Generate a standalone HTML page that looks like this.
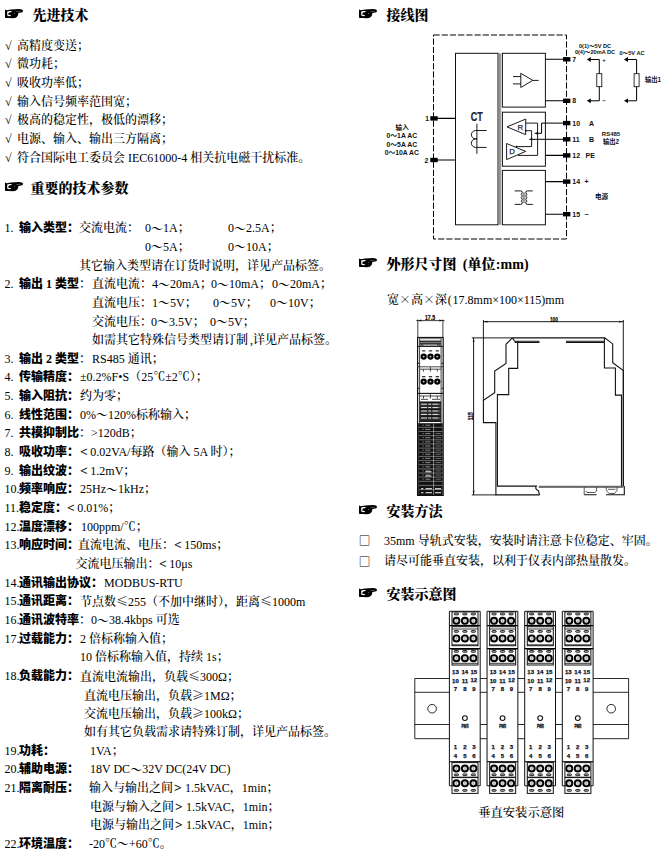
<!DOCTYPE html>
<html lang="zh-CN"><head><meta charset="utf-8"><title>技术参数</title>
<style>
html,body{margin:0;padding:0;background:#fff}
body{width:664px;height:849px;position:relative;overflow:hidden;color:#000;
 font-family:"Liberation Serif","Noto Serif CJK SC",serif;font-size:12px}
.t{position:absolute;white-space:pre;line-height:20px;height:20px;font-size:12px;font-weight:500}
.w{display:inline-block;width:12px;text-align:center;font-family:"Noto Serif CJK SC",serif;font-weight:700}
.lt{font-family:"Liberation Serif",serif;font-weight:700;text-align:left;width:10.3px;font-size:13.5px;line-height:12px;margin-right:0}
.t b{font-family:"Liberation Serif","Noto Sans CJK SC",sans-serif;font-weight:900}
.h{font-size:14px;font-weight:900;line-height:24px;height:24px;font-family:"Liberation Serif","Noto Serif CJK SC",serif}
.hand{font-size:19px;line-height:24px;height:24px;font-family:"DejaVu Sans",sans-serif;font-weight:bold}
svg{position:absolute;left:0;top:0}
svg.hd{position:absolute}
.gt{width:11px;padding-left:1px}
.bx{font-size:11.6px;font-weight:700;line-height:12px;font-family:"Noto Serif CJK SC",serif}
.x{font-weight:500}
.p6{display:inline-block;width:5.5px;text-align:center}
.td{position:relative;top:1.5px;font-weight:700}
</style></head><body>
<svg width="664" height="849" viewBox="0 0 664 849">
<g id="wiring" fill="none" stroke="#000" stroke-width="1">
<rect x="433.5" y="35" width="133" height="204" stroke-dasharray="6.2 2" stroke-width="1"/>
<rect x="455.5" y="53.3" width="42.5" height="171.5" stroke="#111" stroke-width="1"/>
<path d="M499.4,53.3V224.8M500.7,53.3V224.8" stroke="#666" stroke-width="0.8"/>
<rect x="502.4" y="53.3" width="43" height="53.8" stroke="#111" stroke-width="1"/>
<rect x="502.4" y="112.2" width="43" height="54" stroke="#111" stroke-width="1"/>
<rect x="502.4" y="170.4" width="43" height="54.4" stroke="#111" stroke-width="1"/>
<rect x="430.3" y="116.2" width="7.4" height="4.4" fill="#000" stroke="none"/>
<rect x="430.3" y="157.8" width="7.4" height="4.4" fill="#000" stroke="none"/>
<rect x="563" y="57.1" width="7.4" height="4.4" fill="#000" stroke="none"/>
<rect x="563" y="98.6" width="7.4" height="4.4" fill="#000" stroke="none"/>
<rect x="563" y="120.9" width="7.4" height="4.4" fill="#000" stroke="none"/>
<rect x="563" y="137.1" width="7.4" height="4.4" fill="#000" stroke="none"/>
<rect x="563" y="153.2" width="7.4" height="4.4" fill="#000" stroke="none"/>
<rect x="563" y="179.4" width="7.4" height="4.4" fill="#000" stroke="none"/>
<rect x="563" y="212" width="7.4" height="4.4" fill="#000" stroke="none"/>
<path d="M437,118.4H455.5M437,160H455.5" stroke-width="1.1"/>
<path d="M545.4,59.3H563M545.4,100.8H563M545.4,155.4H563M545.4,181.6H563M545.4,214.2H563" stroke-width="1.1"/>
<path d="M520.8,73.3V87.5L532.8,80.4ZM532.8,80.4H538.6M513,76.6H520.8M513,83.9H520.8" stroke-width="0.9"/>
<path d="M476.9,123.7V153.8M486.6,130.5H475.6A4.2,4.2 0 0 0 475.6,138.9H477M477,138.9H475.6A4.25,4.25 0 0 0 475.6,147.4H486.6" stroke-width="0.9"/>
<path d="M507,126.9L525.7,119.1V134.7Z" stroke-width="0.9"/>
<path d="M506.6,143.5V159.6L525.7,151.4Z" stroke-width="0.9"/>
<path d="M525.7,123.1H537.6V155.4H518" stroke-width="0.9"/>
<path d="M563,123.1H541.6V133.3H537.6" stroke-width="1"/>
<path d="M525.7,130.7H531.6V146.6H516.3" stroke-width="0.9"/>
<path d="M563,139.3H531.6" stroke-width="1"/>
<path d="M534,133.3L538,131.9V134.7Z M528.6,139.3L532.2,138V140.6Z" fill="#000" stroke="none"/>
<circle cx="525.7" cy="130.7" r="0.8" fill="#000" stroke="none"/><circle cx="516.3" cy="146.6" r="0.8" fill="#000" stroke="none"/>
<path d="M514.7,190.9H520.5Q522.6,190.9 522.3,192.6M514.7,204.4H520.5Q522.6,204.4 522.3,202.7M532.8,190.9H527.4Q525.6,190.9 525.9,192.6M532.8,204.4H527.4Q525.6,204.4 525.9,202.7" stroke-width="0.9"/>
<path d="M523.2,192.3V203M524.9,192.3V203" stroke-width="0.6"/>
<path d="M522.3,192.6q-2.2,1.7 0,3.4q-2.2,1.7 0,3.4q-2.2,1.7 0,3.3M525.9,192.6q2.2,1.7 0,3.4q2.2,1.7 0,3.4q2.2,1.7 0,3.3" stroke-width="0.8"/>
<path d="M589.8,59.5H599.3V73.7M599.3,86.7V100.8H589.8" stroke-width="1"/>
<rect x="596.8" y="73.7" width="5" height="13" stroke-width="0.8"/>
<path d="M586.8,59.5l4,-2.4v4.8ZM586.8,100.8l4,-2.4v4.8Z" fill="#000" stroke="none"/>
<path d="M627,59.5H636.6V73.7M636.6,86.7V100.8H627" stroke-width="1"/>
<rect x="634.1" y="73.7" width="5" height="13" stroke-width="0.8"/>
<path d="M624,59.5l4,-2.4v4.8ZM624,100.8l4,-2.4v4.8Z" fill="#000" stroke="none"/>
</g>
<g font-family="'Liberation Sans','Noto Sans CJK SC',sans-serif" font-weight="bold" fill="#111" font-size="6.5">
<text x="425.3" y="120.9" font-size="6.8">1</text>
<text x="424.6" y="162.5" font-size="6.8">2</text>
<text x="572.3" y="61.8" font-size="7">7</text>
<text x="572.3" y="103.3" font-size="7">8</text>
<text x="572.3" y="125.6" font-size="7">10</text>
<text x="572.3" y="141.8" font-size="7">11</text>
<text x="572.3" y="157.9" font-size="7">12</text>
<text x="572.3" y="184.1" font-size="7">14</text>
<text x="572.3" y="216.7" font-size="7">15</text>
<text x="589" y="125.6" font-size="7">A</text>
<text x="589" y="141.8" font-size="7">B</text>
<text x="585.5" y="157.9" font-size="7">PE</text>
<text x="584.5" y="184" font-size="7">+</text>
<text x="584.5" y="216.6" font-size="7">−</text>
<text x="602.3" y="61.5" font-size="6">+</text>
<text x="602.3" y="103" font-size="6">−</text>
<text x="402.2" y="129.6" font-size="6.6" text-anchor="middle">输入</text>
<text x="401.8" y="137.9" font-size="6.4" text-anchor="middle" textLength="30.6" lengthAdjust="spacingAndGlyphs">0～1A AC</text>
<text x="401.8" y="146.8" font-size="6.4" text-anchor="middle" textLength="30.6" lengthAdjust="spacingAndGlyphs">0～5A AC</text>
<text x="401.8" y="154.8" font-size="6.4" text-anchor="middle" textLength="34.2" lengthAdjust="spacingAndGlyphs">0～10A AC</text>
<text x="595" y="48" font-size="5.6" text-anchor="middle">0(1)～5V DC</text>
<text x="595" y="53.8" font-size="5.6" text-anchor="middle">0(4)～20mA DC</text>
<text x="632" y="55" font-size="5.6" text-anchor="middle">0～5V AC</text>
<text x="645" y="81.6" font-size="6.3">输出1</text>
<text x="611" y="135.6" font-size="6" text-anchor="middle">RS485</text>
<text x="611" y="144.2" font-size="6.3" text-anchor="middle">输出2</text>
<text x="595" y="198.5" font-size="6.6">电源</text>
</g>
<g font-family="'Liberation Sans',sans-serif" fill="#223" stroke="#223" stroke-width="0.25">
<text x="476.7" y="120.6" font-size="12.6" font-weight="bold" text-anchor="middle" transform="translate(476.7 0) scale(0.72 1) translate(-476.7 0)">CT</text>
<text x="520.2" y="129.9" font-size="7.8" text-anchor="middle">R</text>
<text x="512" y="154.2" font-size="7.8" text-anchor="middle">D</text>
</g>
<g id="dims" fill="none" stroke="#111" stroke-width="0.9">
<path d="M416.3,320.6H444.6M417.8,319.5V337.5M442.9,319.5V337.5" stroke-width="0.8"/>
<path d="M417.8,320.6l3.6,-1v2ZM442.9,320.6l-3.6,-1v2Z" fill="#111" stroke="none"/>
<rect x="417.6" y="337.5" width="25.6" height="157.9" stroke="#111" stroke-width="1.2"/>
<path d="M419.6,337.5V423M441.1,337.5V423" stroke="#444" stroke-width="1"/>
<path d="M419.6,338.7H441.1" stroke="#555" stroke-width="0.8"/>
<rect x="419.6" y="340.8" width="21.5" height="5.8" fill="#777" stroke="none"/>
<path d="M419.6,341.2H441.1M419.6,343.9H441.1M417.6,346.4H443.2" stroke="#111" stroke-width="1"/>
<path d="M423.5,345.1H437" stroke="#ddd" stroke-width="0.8"/>
<path d="M417.6,363.3h1.8M443.2,363.3h-1.8M417.6,388.3h1.8M443.2,388.3h-1.8" stroke="#111" stroke-width="1"/>
<rect x="421.9" y="350.15" width="3.6" height="1.3" rx="0.6" fill="#333" stroke="none"/>
<circle cx="423.7" cy="356.6" r="2.05" fill="#ccc" stroke="#000" stroke-width="2.2"/>
<rect x="428.7" y="350.15" width="3.6" height="1.3" rx="0.6" fill="#333" stroke="none"/>
<circle cx="430.5" cy="356.6" r="2.05" fill="#ccc" stroke="#000" stroke-width="2.2"/>
<rect x="435.5" y="350.15" width="3.6" height="1.3" rx="0.6" fill="#333" stroke="none"/>
<circle cx="437.3" cy="356.6" r="2.05" fill="#ccc" stroke="#000" stroke-width="2.2"/>
<path d="M417.6,366.8H443.2M419.6,369.2H441.1M423.5,369.2v2.4M430.4,367v4.6M437.3,369.2v2.4" stroke="#333" stroke-width="0.9"/>
<rect x="421.9" y="376.05" width="3.6" height="1.3" rx="0.6" fill="#333" stroke="none"/>
<circle cx="423.7" cy="381.6" r="2.05" fill="#ccc" stroke="#000" stroke-width="2.2"/>
<rect x="428.7" y="376.05" width="3.6" height="1.3" rx="0.6" fill="#333" stroke="none"/>
<circle cx="430.5" cy="381.6" r="2.05" fill="#ccc" stroke="#000" stroke-width="2.2"/>
<rect x="435.5" y="376.05" width="3.6" height="1.3" rx="0.6" fill="#333" stroke="none"/>
<circle cx="437.3" cy="381.6" r="2.05" fill="#ccc" stroke="#000" stroke-width="2.2"/>
<path d="M417.6,393.4H443.2" stroke="#111" stroke-width="1.1"/>
<path d="M419.6,396H441.1M423.5,396v2.6M430.4,394v4.6M437.3,396v2.6M421,399.3H428M432,399.3H440" stroke="#333" stroke-width="0.9"/>
<rect x="419.6" y="401.5" width="21.5" height="20.3" fill="#2a2a2a" stroke="none"/>
<path d="M421,404.2H440M421,407.6H440M421,411H440M421,414.4H440M421,418H440" stroke="#fff" stroke-width="0.9" stroke-dasharray="6 1.2 3 1.2"/>
<path d="M419.6,402.3H441.1M419.6,409.3H441.1M419.6,416.2H441.1M419.6,421.4H441.1" stroke="#111" stroke-width="1"/>
<rect x="418.2" y="423.2" width="24.5" height="72" fill="#111" stroke="none"/>
<path d="M419,427.3H442.4M419,431.5H442.4M419,435.6H442.4M419,439.8H442.4M419,443.9H442.4M419,448.1H442.4M419,452.2H442.4M419,456.4H442.4M419,460.6H442.4M419,464.7H442.4M419,468.9H442.4M419,473.0H442.4M419,477.1H442.4M419,481.3H442.4M419,485.4H442.4M419,489.6H442.4" stroke="#bbb" stroke-width="0.55"/>
<path d="M433.6,423.5V495" stroke="#ccc" stroke-width="0.6"/>
<path d="M422.5,425.2H432M422.5,429.4H432M422.5,433.5H432M422.5,437.7H432M422.5,441.8H432M422.5,446.0H432M422.5,450.1H432M422.5,454.3H432M422.5,458.4H432M422.5,462.6H432M422.5,466.8H432M422.5,470.9H432M422.5,475.0H432M422.5,479.2H432" stroke="#999" stroke-width="0.9" stroke-dasharray="1.2 1.6 5 30"/>
<path d="M435.5,433.5H441M435.5,437.7H441M435.5,441.8H441M435.5,446.0H441M435.5,450.1H441M435.5,454.3H441M435.5,458.4H441M435.5,462.6H441M435.5,466.8H441M435.5,470.9H441M435.5,475.0H441M435.5,479.2H441" stroke="#777" stroke-width="0.9"/>
<path d="M421,488.7h2.4M425.5,488.7h6.5M435,488.7h6M421,492.7h2.4M425.5,492.7h6.5M435,492.7h6" stroke="#fff" stroke-width="1.1"/>
<path d="M425.5,471.8h6M425.5,476h6" stroke="#fff" stroke-width="0.9"/>
<g stroke="#111" stroke-width="1.1">
<path d="M483.4,321.7H623.3M483.4,320V400.4M623.3,320V486" stroke-width="0.95"/>
<path d="M483.4,321.7l4.2,-0.9v1.8ZM623.3,321.7l-4.2,-0.9v1.8Z" fill="#111" stroke="none"/>
<path d="M473.6,337.9V494.9M471.8,337.9H512.4M471.8,494.9H496" stroke-width="0.95"/>
<path d="M473.6,337.9l-0.9,4.2h1.8ZM473.6,494.9l-0.9,-4.2h1.8Z" fill="#111" stroke="none"/>
<path d="M512.4,337.9L506,344.3V363.5L494.7,371V392.8L483.4,400.4V422.6H495.9V494.9H539.5M512.4,337.9H604.7L612.7,343.9V362.7L623.3,370.5V486.3M624.3,486V494.8H606M596.6,494.8H584.2" />
<path d="M512.4,337.9L514.7,341.3H539.5M514.7,342.5H539.5M517.7,341.5V368.4H508.7V394.6H497.4V486.1H536.3Q534.6,489 538.4,490.6L539.5,494.9M566,341.2H604M566,342.5H604M604.4,338V368H615.4V395.1H621.5V486" />
<path d="M538.8,486.3H623.3M538.8,487.3H623.3" stroke-width="0.7"/>
<path d="M584.2,487.3V494.8M596.6,487.3V491L594.5,492.5H587L585.8,491M606,487.3Q606.5,492.5 609.5,493.5H614.5L617,490.5V487.3M608,489.3H615.5" stroke-width="0.7"/>
</g>
</g>
<g font-family="'Liberation Sans',sans-serif" font-weight="bold" fill="#000" stroke="#000" stroke-width="0.2">
<text x="430" y="320" font-size="7" text-anchor="middle" textLength="10" lengthAdjust="spacingAndGlyphs">17.5</text>
<text x="553.9" y="321.5" font-size="7.6" text-anchor="middle" textLength="8" lengthAdjust="spacingAndGlyphs">100</text>
<text x="0" y="0" font-size="7" text-anchor="middle" textLength="8" lengthAdjust="spacingAndGlyphs" transform="translate(473.1 416.3) rotate(-90)">115</text>
</g>
<g id="install" fill="none" stroke="#111" stroke-width="0.9">
<path d="M449.4,678.5H414.8V738.7H449.4M414.8,692.3H449.4M414.8,724.5H449.4" />
<path d="M593,678.5H628.6V738.7H593M593,692.3H628.6M593,724.5H628.6" />
<circle cx="432.1" cy="708.7" r="4.3"/><circle cx="611.2" cy="708.7" r="4.3"/>
<path d="M480.2,678.5H487.05M480.2,692.3H487.05M480.2,724.5H487.05M480.2,738.7H487.05"/>
<path d="M517.85,678.5H524.7M517.85,692.3H524.7M517.85,724.5H524.7M517.85,738.7H524.7"/>
<path d="M555.5,678.5H562.3M555.5,692.3H562.3M555.5,724.5H562.3M555.5,738.7H562.3"/>
<g transform="translate(449.4 0)">
<path d="M0,611.3H30.8V785.8H26.5M4.3,785.8H0V611.3" stroke="#111" stroke-width="1"/>
<rect x="2.6" y="611.9" width="26" height="13.4" stroke="#111" stroke-width="1"/>
<rect x="4.8" y="613.15" width="4.4" height="1.7" rx="0.85" stroke="#111" stroke-width="0.9" fill="#bbb"/>
<circle cx="7" cy="620.8" r="3.05" fill="#ddd" stroke="#000" stroke-width="1.9"/>
<path d="M7,619.1v3" stroke="#999" stroke-width="0.7"/>
<rect x="13.3" y="613.15" width="4.4" height="1.7" rx="0.85" stroke="#111" stroke-width="0.9" fill="#bbb"/>
<circle cx="15.5" cy="620.8" r="3.05" fill="#ddd" stroke="#000" stroke-width="1.9"/>
<path d="M15.5,619.1v3" stroke="#999" stroke-width="0.7"/>
<rect x="21.8" y="613.15" width="4.4" height="1.7" rx="0.85" stroke="#111" stroke-width="0.9" fill="#bbb"/>
<circle cx="24" cy="620.8" r="3.05" fill="#ddd" stroke="#000" stroke-width="1.9"/>
<path d="M24,619.1v3" stroke="#999" stroke-width="0.7"/>
<rect x="2.6" y="626.7" width="26" height="19" stroke="#111" stroke-width="1"/>
<rect x="4.8" y="630.55" width="4.4" height="1.7" rx="0.85" stroke="#111" stroke-width="0.9" fill="#bbb"/>
<circle cx="7" cy="638.4" r="3.05" fill="#ddd" stroke="#000" stroke-width="1.9"/>
<path d="M7,636.7v3" stroke="#999" stroke-width="0.7"/>
<rect x="13.3" y="630.55" width="4.4" height="1.7" rx="0.85" stroke="#111" stroke-width="0.9" fill="#bbb"/>
<circle cx="15.5" cy="638.4" r="3.05" fill="#ddd" stroke="#000" stroke-width="1.9"/>
<path d="M15.5,636.7v3" stroke="#999" stroke-width="0.7"/>
<rect x="21.8" y="630.55" width="4.4" height="1.7" rx="0.85" stroke="#111" stroke-width="0.9" fill="#bbb"/>
<circle cx="24" cy="638.4" r="3.05" fill="#ddd" stroke="#000" stroke-width="1.9"/>
<path d="M24,636.7v3" stroke="#999" stroke-width="0.7"/>
<rect x="2.6" y="649.3" width="26" height="15.7" stroke="#111" stroke-width="1"/>
<rect x="4.8" y="650.55" width="4.4" height="1.7" rx="0.85" stroke="#111" stroke-width="0.9" fill="#bbb"/>
<circle cx="7" cy="658.2" r="3.05" fill="#ddd" stroke="#000" stroke-width="1.9"/>
<path d="M7,656.5v3" stroke="#999" stroke-width="0.7"/>
<rect x="13.3" y="650.55" width="4.4" height="1.7" rx="0.85" stroke="#111" stroke-width="0.9" fill="#bbb"/>
<circle cx="15.5" cy="658.2" r="3.05" fill="#ddd" stroke="#000" stroke-width="1.9"/>
<path d="M15.5,656.5v3" stroke="#999" stroke-width="0.7"/>
<rect x="21.8" y="650.55" width="4.4" height="1.7" rx="0.85" stroke="#111" stroke-width="0.9" fill="#bbb"/>
<circle cx="24" cy="658.2" r="3.05" fill="#ddd" stroke="#000" stroke-width="1.9"/>
<path d="M24,656.5v3" stroke="#999" stroke-width="0.7"/>
<path d="M0,625.7H30.8M0,648.7H30.8" stroke="#000" stroke-width="1.2"/>
<path d="M2.6,629H28.6M2.6,644.8H28.6M2.6,663.3H28.6" stroke="#222" stroke-width="0.9"/>
<circle cx="15.5" cy="718.1" r="2.4" stroke="#111" stroke-width="1.1"/>
<path d="M0,761.7H30.8" stroke="#000" stroke-width="1.1"/>
<rect x="2.6" y="762.6" width="26" height="14.6" stroke="#111" stroke-width="1"/>
<rect x="2.6" y="777.6" width="26" height="15.8" stroke="#111" stroke-width="1"/>
<rect x="4.8" y="773.95" width="4.4" height="1.7" rx="0.85" stroke="#111" stroke-width="0.9" fill="#bbb"/>
<circle cx="7" cy="768.5" r="3.05" fill="#ddd" stroke="#000" stroke-width="1.9"/>
<path d="M7,766.8v3" stroke="#999" stroke-width="0.7"/>
<rect x="13.3" y="773.95" width="4.4" height="1.7" rx="0.85" stroke="#111" stroke-width="0.9" fill="#bbb"/>
<circle cx="15.5" cy="768.5" r="3.05" fill="#ddd" stroke="#000" stroke-width="1.9"/>
<path d="M15.5,766.8v3" stroke="#999" stroke-width="0.7"/>
<rect x="21.8" y="773.95" width="4.4" height="1.7" rx="0.85" stroke="#111" stroke-width="0.9" fill="#bbb"/>
<circle cx="24" cy="768.5" r="3.05" fill="#ddd" stroke="#000" stroke-width="1.9"/>
<path d="M24,766.8v3" stroke="#999" stroke-width="0.7"/>
<rect x="4.8" y="789.55" width="4.4" height="1.7" rx="0.85" stroke="#111" stroke-width="0.9" fill="#bbb"/>
<circle cx="7" cy="783.3" r="3.05" fill="#ddd" stroke="#000" stroke-width="1.9"/>
<path d="M7,781.6v3" stroke="#999" stroke-width="0.7"/>
<rect x="13.3" y="789.55" width="4.4" height="1.7" rx="0.85" stroke="#111" stroke-width="0.9" fill="#bbb"/>
<circle cx="15.5" cy="783.3" r="3.05" fill="#ddd" stroke="#000" stroke-width="1.9"/>
<path d="M15.5,781.6v3" stroke="#999" stroke-width="0.7"/>
<rect x="21.8" y="789.55" width="4.4" height="1.7" rx="0.85" stroke="#111" stroke-width="0.9" fill="#bbb"/>
<circle cx="24" cy="783.3" r="3.05" fill="#ddd" stroke="#000" stroke-width="1.9"/>
<path d="M24,781.6v3" stroke="#999" stroke-width="0.7"/>
</g>
<g transform="translate(487.05 0)">
<path d="M0,611.3H30.8V785.8H26.5M4.3,785.8H0V611.3" stroke="#111" stroke-width="1"/>
<rect x="2.6" y="611.9" width="26" height="13.4" stroke="#111" stroke-width="1"/>
<rect x="4.8" y="613.15" width="4.4" height="1.7" rx="0.85" stroke="#111" stroke-width="0.9" fill="#bbb"/>
<circle cx="7" cy="620.8" r="3.05" fill="#ddd" stroke="#000" stroke-width="1.9"/>
<path d="M7,619.1v3" stroke="#999" stroke-width="0.7"/>
<rect x="13.3" y="613.15" width="4.4" height="1.7" rx="0.85" stroke="#111" stroke-width="0.9" fill="#bbb"/>
<circle cx="15.5" cy="620.8" r="3.05" fill="#ddd" stroke="#000" stroke-width="1.9"/>
<path d="M15.5,619.1v3" stroke="#999" stroke-width="0.7"/>
<rect x="21.8" y="613.15" width="4.4" height="1.7" rx="0.85" stroke="#111" stroke-width="0.9" fill="#bbb"/>
<circle cx="24" cy="620.8" r="3.05" fill="#ddd" stroke="#000" stroke-width="1.9"/>
<path d="M24,619.1v3" stroke="#999" stroke-width="0.7"/>
<rect x="2.6" y="626.7" width="26" height="19" stroke="#111" stroke-width="1"/>
<rect x="4.8" y="630.55" width="4.4" height="1.7" rx="0.85" stroke="#111" stroke-width="0.9" fill="#bbb"/>
<circle cx="7" cy="638.4" r="3.05" fill="#ddd" stroke="#000" stroke-width="1.9"/>
<path d="M7,636.7v3" stroke="#999" stroke-width="0.7"/>
<rect x="13.3" y="630.55" width="4.4" height="1.7" rx="0.85" stroke="#111" stroke-width="0.9" fill="#bbb"/>
<circle cx="15.5" cy="638.4" r="3.05" fill="#ddd" stroke="#000" stroke-width="1.9"/>
<path d="M15.5,636.7v3" stroke="#999" stroke-width="0.7"/>
<rect x="21.8" y="630.55" width="4.4" height="1.7" rx="0.85" stroke="#111" stroke-width="0.9" fill="#bbb"/>
<circle cx="24" cy="638.4" r="3.05" fill="#ddd" stroke="#000" stroke-width="1.9"/>
<path d="M24,636.7v3" stroke="#999" stroke-width="0.7"/>
<rect x="2.6" y="649.3" width="26" height="15.7" stroke="#111" stroke-width="1"/>
<rect x="4.8" y="650.55" width="4.4" height="1.7" rx="0.85" stroke="#111" stroke-width="0.9" fill="#bbb"/>
<circle cx="7" cy="658.2" r="3.05" fill="#ddd" stroke="#000" stroke-width="1.9"/>
<path d="M7,656.5v3" stroke="#999" stroke-width="0.7"/>
<rect x="13.3" y="650.55" width="4.4" height="1.7" rx="0.85" stroke="#111" stroke-width="0.9" fill="#bbb"/>
<circle cx="15.5" cy="658.2" r="3.05" fill="#ddd" stroke="#000" stroke-width="1.9"/>
<path d="M15.5,656.5v3" stroke="#999" stroke-width="0.7"/>
<rect x="21.8" y="650.55" width="4.4" height="1.7" rx="0.85" stroke="#111" stroke-width="0.9" fill="#bbb"/>
<circle cx="24" cy="658.2" r="3.05" fill="#ddd" stroke="#000" stroke-width="1.9"/>
<path d="M24,656.5v3" stroke="#999" stroke-width="0.7"/>
<path d="M0,625.7H30.8M0,648.7H30.8" stroke="#000" stroke-width="1.2"/>
<path d="M2.6,629H28.6M2.6,644.8H28.6M2.6,663.3H28.6" stroke="#222" stroke-width="0.9"/>
<circle cx="15.5" cy="718.1" r="2.4" stroke="#111" stroke-width="1.1"/>
<path d="M0,761.7H30.8" stroke="#000" stroke-width="1.1"/>
<rect x="2.6" y="762.6" width="26" height="14.6" stroke="#111" stroke-width="1"/>
<rect x="2.6" y="777.6" width="26" height="15.8" stroke="#111" stroke-width="1"/>
<rect x="4.8" y="773.95" width="4.4" height="1.7" rx="0.85" stroke="#111" stroke-width="0.9" fill="#bbb"/>
<circle cx="7" cy="768.5" r="3.05" fill="#ddd" stroke="#000" stroke-width="1.9"/>
<path d="M7,766.8v3" stroke="#999" stroke-width="0.7"/>
<rect x="13.3" y="773.95" width="4.4" height="1.7" rx="0.85" stroke="#111" stroke-width="0.9" fill="#bbb"/>
<circle cx="15.5" cy="768.5" r="3.05" fill="#ddd" stroke="#000" stroke-width="1.9"/>
<path d="M15.5,766.8v3" stroke="#999" stroke-width="0.7"/>
<rect x="21.8" y="773.95" width="4.4" height="1.7" rx="0.85" stroke="#111" stroke-width="0.9" fill="#bbb"/>
<circle cx="24" cy="768.5" r="3.05" fill="#ddd" stroke="#000" stroke-width="1.9"/>
<path d="M24,766.8v3" stroke="#999" stroke-width="0.7"/>
<rect x="4.8" y="789.55" width="4.4" height="1.7" rx="0.85" stroke="#111" stroke-width="0.9" fill="#bbb"/>
<circle cx="7" cy="783.3" r="3.05" fill="#ddd" stroke="#000" stroke-width="1.9"/>
<path d="M7,781.6v3" stroke="#999" stroke-width="0.7"/>
<rect x="13.3" y="789.55" width="4.4" height="1.7" rx="0.85" stroke="#111" stroke-width="0.9" fill="#bbb"/>
<circle cx="15.5" cy="783.3" r="3.05" fill="#ddd" stroke="#000" stroke-width="1.9"/>
<path d="M15.5,781.6v3" stroke="#999" stroke-width="0.7"/>
<rect x="21.8" y="789.55" width="4.4" height="1.7" rx="0.85" stroke="#111" stroke-width="0.9" fill="#bbb"/>
<circle cx="24" cy="783.3" r="3.05" fill="#ddd" stroke="#000" stroke-width="1.9"/>
<path d="M24,781.6v3" stroke="#999" stroke-width="0.7"/>
</g>
<g transform="translate(524.7 0)">
<path d="M0,611.3H30.8V785.8H26.5M4.3,785.8H0V611.3" stroke="#111" stroke-width="1"/>
<rect x="2.6" y="611.9" width="26" height="13.4" stroke="#111" stroke-width="1"/>
<rect x="4.8" y="613.15" width="4.4" height="1.7" rx="0.85" stroke="#111" stroke-width="0.9" fill="#bbb"/>
<circle cx="7" cy="620.8" r="3.05" fill="#ddd" stroke="#000" stroke-width="1.9"/>
<path d="M7,619.1v3" stroke="#999" stroke-width="0.7"/>
<rect x="13.3" y="613.15" width="4.4" height="1.7" rx="0.85" stroke="#111" stroke-width="0.9" fill="#bbb"/>
<circle cx="15.5" cy="620.8" r="3.05" fill="#ddd" stroke="#000" stroke-width="1.9"/>
<path d="M15.5,619.1v3" stroke="#999" stroke-width="0.7"/>
<rect x="21.8" y="613.15" width="4.4" height="1.7" rx="0.85" stroke="#111" stroke-width="0.9" fill="#bbb"/>
<circle cx="24" cy="620.8" r="3.05" fill="#ddd" stroke="#000" stroke-width="1.9"/>
<path d="M24,619.1v3" stroke="#999" stroke-width="0.7"/>
<rect x="2.6" y="626.7" width="26" height="19" stroke="#111" stroke-width="1"/>
<rect x="4.8" y="630.55" width="4.4" height="1.7" rx="0.85" stroke="#111" stroke-width="0.9" fill="#bbb"/>
<circle cx="7" cy="638.4" r="3.05" fill="#ddd" stroke="#000" stroke-width="1.9"/>
<path d="M7,636.7v3" stroke="#999" stroke-width="0.7"/>
<rect x="13.3" y="630.55" width="4.4" height="1.7" rx="0.85" stroke="#111" stroke-width="0.9" fill="#bbb"/>
<circle cx="15.5" cy="638.4" r="3.05" fill="#ddd" stroke="#000" stroke-width="1.9"/>
<path d="M15.5,636.7v3" stroke="#999" stroke-width="0.7"/>
<rect x="21.8" y="630.55" width="4.4" height="1.7" rx="0.85" stroke="#111" stroke-width="0.9" fill="#bbb"/>
<circle cx="24" cy="638.4" r="3.05" fill="#ddd" stroke="#000" stroke-width="1.9"/>
<path d="M24,636.7v3" stroke="#999" stroke-width="0.7"/>
<rect x="2.6" y="649.3" width="26" height="15.7" stroke="#111" stroke-width="1"/>
<rect x="4.8" y="650.55" width="4.4" height="1.7" rx="0.85" stroke="#111" stroke-width="0.9" fill="#bbb"/>
<circle cx="7" cy="658.2" r="3.05" fill="#ddd" stroke="#000" stroke-width="1.9"/>
<path d="M7,656.5v3" stroke="#999" stroke-width="0.7"/>
<rect x="13.3" y="650.55" width="4.4" height="1.7" rx="0.85" stroke="#111" stroke-width="0.9" fill="#bbb"/>
<circle cx="15.5" cy="658.2" r="3.05" fill="#ddd" stroke="#000" stroke-width="1.9"/>
<path d="M15.5,656.5v3" stroke="#999" stroke-width="0.7"/>
<rect x="21.8" y="650.55" width="4.4" height="1.7" rx="0.85" stroke="#111" stroke-width="0.9" fill="#bbb"/>
<circle cx="24" cy="658.2" r="3.05" fill="#ddd" stroke="#000" stroke-width="1.9"/>
<path d="M24,656.5v3" stroke="#999" stroke-width="0.7"/>
<path d="M0,625.7H30.8M0,648.7H30.8" stroke="#000" stroke-width="1.2"/>
<path d="M2.6,629H28.6M2.6,644.8H28.6M2.6,663.3H28.6" stroke="#222" stroke-width="0.9"/>
<circle cx="15.5" cy="718.1" r="2.4" stroke="#111" stroke-width="1.1"/>
<path d="M0,761.7H30.8" stroke="#000" stroke-width="1.1"/>
<rect x="2.6" y="762.6" width="26" height="14.6" stroke="#111" stroke-width="1"/>
<rect x="2.6" y="777.6" width="26" height="15.8" stroke="#111" stroke-width="1"/>
<rect x="4.8" y="773.95" width="4.4" height="1.7" rx="0.85" stroke="#111" stroke-width="0.9" fill="#bbb"/>
<circle cx="7" cy="768.5" r="3.05" fill="#ddd" stroke="#000" stroke-width="1.9"/>
<path d="M7,766.8v3" stroke="#999" stroke-width="0.7"/>
<rect x="13.3" y="773.95" width="4.4" height="1.7" rx="0.85" stroke="#111" stroke-width="0.9" fill="#bbb"/>
<circle cx="15.5" cy="768.5" r="3.05" fill="#ddd" stroke="#000" stroke-width="1.9"/>
<path d="M15.5,766.8v3" stroke="#999" stroke-width="0.7"/>
<rect x="21.8" y="773.95" width="4.4" height="1.7" rx="0.85" stroke="#111" stroke-width="0.9" fill="#bbb"/>
<circle cx="24" cy="768.5" r="3.05" fill="#ddd" stroke="#000" stroke-width="1.9"/>
<path d="M24,766.8v3" stroke="#999" stroke-width="0.7"/>
<rect x="4.8" y="789.55" width="4.4" height="1.7" rx="0.85" stroke="#111" stroke-width="0.9" fill="#bbb"/>
<circle cx="7" cy="783.3" r="3.05" fill="#ddd" stroke="#000" stroke-width="1.9"/>
<path d="M7,781.6v3" stroke="#999" stroke-width="0.7"/>
<rect x="13.3" y="789.55" width="4.4" height="1.7" rx="0.85" stroke="#111" stroke-width="0.9" fill="#bbb"/>
<circle cx="15.5" cy="783.3" r="3.05" fill="#ddd" stroke="#000" stroke-width="1.9"/>
<path d="M15.5,781.6v3" stroke="#999" stroke-width="0.7"/>
<rect x="21.8" y="789.55" width="4.4" height="1.7" rx="0.85" stroke="#111" stroke-width="0.9" fill="#bbb"/>
<circle cx="24" cy="783.3" r="3.05" fill="#ddd" stroke="#000" stroke-width="1.9"/>
<path d="M24,781.6v3" stroke="#999" stroke-width="0.7"/>
</g>
<g transform="translate(562.3 0)">
<path d="M0,611.3H30.8V785.8H26.5M4.3,785.8H0V611.3" stroke="#111" stroke-width="1"/>
<rect x="2.6" y="611.9" width="26" height="13.4" stroke="#111" stroke-width="1"/>
<rect x="4.8" y="613.15" width="4.4" height="1.7" rx="0.85" stroke="#111" stroke-width="0.9" fill="#bbb"/>
<circle cx="7" cy="620.8" r="3.05" fill="#ddd" stroke="#000" stroke-width="1.9"/>
<path d="M7,619.1v3" stroke="#999" stroke-width="0.7"/>
<rect x="13.3" y="613.15" width="4.4" height="1.7" rx="0.85" stroke="#111" stroke-width="0.9" fill="#bbb"/>
<circle cx="15.5" cy="620.8" r="3.05" fill="#ddd" stroke="#000" stroke-width="1.9"/>
<path d="M15.5,619.1v3" stroke="#999" stroke-width="0.7"/>
<rect x="21.8" y="613.15" width="4.4" height="1.7" rx="0.85" stroke="#111" stroke-width="0.9" fill="#bbb"/>
<circle cx="24" cy="620.8" r="3.05" fill="#ddd" stroke="#000" stroke-width="1.9"/>
<path d="M24,619.1v3" stroke="#999" stroke-width="0.7"/>
<rect x="2.6" y="626.7" width="26" height="19" stroke="#111" stroke-width="1"/>
<rect x="4.8" y="630.55" width="4.4" height="1.7" rx="0.85" stroke="#111" stroke-width="0.9" fill="#bbb"/>
<circle cx="7" cy="638.4" r="3.05" fill="#ddd" stroke="#000" stroke-width="1.9"/>
<path d="M7,636.7v3" stroke="#999" stroke-width="0.7"/>
<rect x="13.3" y="630.55" width="4.4" height="1.7" rx="0.85" stroke="#111" stroke-width="0.9" fill="#bbb"/>
<circle cx="15.5" cy="638.4" r="3.05" fill="#ddd" stroke="#000" stroke-width="1.9"/>
<path d="M15.5,636.7v3" stroke="#999" stroke-width="0.7"/>
<rect x="21.8" y="630.55" width="4.4" height="1.7" rx="0.85" stroke="#111" stroke-width="0.9" fill="#bbb"/>
<circle cx="24" cy="638.4" r="3.05" fill="#ddd" stroke="#000" stroke-width="1.9"/>
<path d="M24,636.7v3" stroke="#999" stroke-width="0.7"/>
<rect x="2.6" y="649.3" width="26" height="15.7" stroke="#111" stroke-width="1"/>
<rect x="4.8" y="650.55" width="4.4" height="1.7" rx="0.85" stroke="#111" stroke-width="0.9" fill="#bbb"/>
<circle cx="7" cy="658.2" r="3.05" fill="#ddd" stroke="#000" stroke-width="1.9"/>
<path d="M7,656.5v3" stroke="#999" stroke-width="0.7"/>
<rect x="13.3" y="650.55" width="4.4" height="1.7" rx="0.85" stroke="#111" stroke-width="0.9" fill="#bbb"/>
<circle cx="15.5" cy="658.2" r="3.05" fill="#ddd" stroke="#000" stroke-width="1.9"/>
<path d="M15.5,656.5v3" stroke="#999" stroke-width="0.7"/>
<rect x="21.8" y="650.55" width="4.4" height="1.7" rx="0.85" stroke="#111" stroke-width="0.9" fill="#bbb"/>
<circle cx="24" cy="658.2" r="3.05" fill="#ddd" stroke="#000" stroke-width="1.9"/>
<path d="M24,656.5v3" stroke="#999" stroke-width="0.7"/>
<path d="M0,625.7H30.8M0,648.7H30.8" stroke="#000" stroke-width="1.2"/>
<path d="M2.6,629H28.6M2.6,644.8H28.6M2.6,663.3H28.6" stroke="#222" stroke-width="0.9"/>
<circle cx="15.5" cy="718.1" r="2.4" stroke="#111" stroke-width="1.1"/>
<path d="M0,761.7H30.8" stroke="#000" stroke-width="1.1"/>
<rect x="2.6" y="762.6" width="26" height="14.6" stroke="#111" stroke-width="1"/>
<rect x="2.6" y="777.6" width="26" height="15.8" stroke="#111" stroke-width="1"/>
<rect x="4.8" y="773.95" width="4.4" height="1.7" rx="0.85" stroke="#111" stroke-width="0.9" fill="#bbb"/>
<circle cx="7" cy="768.5" r="3.05" fill="#ddd" stroke="#000" stroke-width="1.9"/>
<path d="M7,766.8v3" stroke="#999" stroke-width="0.7"/>
<rect x="13.3" y="773.95" width="4.4" height="1.7" rx="0.85" stroke="#111" stroke-width="0.9" fill="#bbb"/>
<circle cx="15.5" cy="768.5" r="3.05" fill="#ddd" stroke="#000" stroke-width="1.9"/>
<path d="M15.5,766.8v3" stroke="#999" stroke-width="0.7"/>
<rect x="21.8" y="773.95" width="4.4" height="1.7" rx="0.85" stroke="#111" stroke-width="0.9" fill="#bbb"/>
<circle cx="24" cy="768.5" r="3.05" fill="#ddd" stroke="#000" stroke-width="1.9"/>
<path d="M24,766.8v3" stroke="#999" stroke-width="0.7"/>
<rect x="4.8" y="789.55" width="4.4" height="1.7" rx="0.85" stroke="#111" stroke-width="0.9" fill="#bbb"/>
<circle cx="7" cy="783.3" r="3.05" fill="#ddd" stroke="#000" stroke-width="1.9"/>
<path d="M7,781.6v3" stroke="#999" stroke-width="0.7"/>
<rect x="13.3" y="789.55" width="4.4" height="1.7" rx="0.85" stroke="#111" stroke-width="0.9" fill="#bbb"/>
<circle cx="15.5" cy="783.3" r="3.05" fill="#ddd" stroke="#000" stroke-width="1.9"/>
<path d="M15.5,781.6v3" stroke="#999" stroke-width="0.7"/>
<rect x="21.8" y="789.55" width="4.4" height="1.7" rx="0.85" stroke="#111" stroke-width="0.9" fill="#bbb"/>
<circle cx="24" cy="783.3" r="3.05" fill="#ddd" stroke="#000" stroke-width="1.9"/>
<path d="M24,781.6v3" stroke="#999" stroke-width="0.7"/>
</g>
</g>
<g font-family="'Liberation Sans',sans-serif" font-weight="bold" fill="#112" stroke="#112" stroke-width="0.25" font-size="6" text-anchor="middle">
<text x="455.4" y="673.7">13</text>
<text x="464.8" y="673.7">14</text>
<text x="473.8" y="673.7">15</text>
<text x="455.4" y="682.8">10</text>
<text x="464.8" y="682.8">11</text>
<text x="473.8" y="681.9">12</text>
<text x="455.4" y="690.6">7</text>
<text x="464.8" y="690.6">8</text>
<text x="473.8" y="690.6">9</text>
<text x="455.4" y="749.1">1</text>
<text x="464.8" y="749.1">2</text>
<text x="473.8" y="749.1">3</text>
<text x="455.4" y="758">4</text>
<text x="464.8" y="758">5</text>
<text x="473.8" y="758">6</text>
<text x="465.1" y="727.6" font-size="5" stroke-width="0.35" textLength="7" lengthAdjust="spacingAndGlyphs">PWR</text>
<text x="493.05" y="673.7">13</text>
<text x="502.45" y="673.7">14</text>
<text x="511.45" y="673.7">15</text>
<text x="493.05" y="682.8">10</text>
<text x="502.45" y="682.8">11</text>
<text x="511.45" y="681.9">12</text>
<text x="493.05" y="690.6">7</text>
<text x="502.45" y="690.6">8</text>
<text x="511.45" y="690.6">9</text>
<text x="493.05" y="749.1">1</text>
<text x="502.45" y="749.1">2</text>
<text x="511.45" y="749.1">3</text>
<text x="493.05" y="758">4</text>
<text x="502.45" y="758">5</text>
<text x="511.45" y="758">6</text>
<text x="502.75" y="727.6" font-size="5" stroke-width="0.35" textLength="7" lengthAdjust="spacingAndGlyphs">PWR</text>
<text x="530.7" y="673.7">13</text>
<text x="540.1" y="673.7">14</text>
<text x="549.1" y="673.7">15</text>
<text x="530.7" y="682.8">10</text>
<text x="540.1" y="682.8">11</text>
<text x="549.1" y="681.9">12</text>
<text x="530.7" y="690.6">7</text>
<text x="540.1" y="690.6">8</text>
<text x="549.1" y="690.6">9</text>
<text x="530.7" y="749.1">1</text>
<text x="540.1" y="749.1">2</text>
<text x="549.1" y="749.1">3</text>
<text x="530.7" y="758">4</text>
<text x="540.1" y="758">5</text>
<text x="549.1" y="758">6</text>
<text x="540.4" y="727.6" font-size="5" stroke-width="0.35" textLength="7" lengthAdjust="spacingAndGlyphs">PWR</text>
<text x="568.3" y="673.7">13</text>
<text x="577.7" y="673.7">14</text>
<text x="586.7" y="673.7">15</text>
<text x="568.3" y="682.8">10</text>
<text x="577.7" y="682.8">11</text>
<text x="586.7" y="681.9">12</text>
<text x="568.3" y="690.6">7</text>
<text x="577.7" y="690.6">8</text>
<text x="586.7" y="690.6">9</text>
<text x="568.3" y="749.1">1</text>
<text x="577.7" y="749.1">2</text>
<text x="586.7" y="749.1">3</text>
<text x="568.3" y="758">4</text>
<text x="577.7" y="758">5</text>
<text x="586.7" y="758">6</text>
<text x="578" y="727.6" font-size="5" stroke-width="0.35" textLength="7" lengthAdjust="spacingAndGlyphs">PWR</text>
</g>
</svg>
<svg class="hd" style="left:5.2px;top:9.3px" width="19" height="10" viewBox="0 0 19 10"><path d="M0,0.6L1.9,1.2L6,0.4L14,0.1Q17.6,0.1 18.1,2Q17.9,3.7 15,3.8L13.3,4.1L13.1,6L12.2,7.6L10.8,8.8L8,9.3L4,8.9L0.3,8.9L0,8Z" fill="#000"/><path d="M2.2,2.4L4.6,1.9L6.6,2.1L6.5,3L4.2,3.6L3.3,4.6L3.3,5.7L5.6,6L6,7.1L4,7.3L2.2,6.6Z" fill="#fff"/><path d="M11.3,2.45H15.6" stroke="#999" stroke-width="0.5"/><circle cx="9.4" cy="4.3" r="0.45" fill="#aaa"/></svg>
<div class="t h" style="left:32.5px;top:4px">先进技术</div>
<div class="t " style="left:5px;top:35.5px">√</div>
<div class="t " style="left:17px;top:35.5px">高精度变送；</div>
<div class="t " style="left:5px;top:54px">√</div>
<div class="t " style="left:17px;top:54px">微功耗；</div>
<div class="t " style="left:5px;top:72.5px">√</div>
<div class="t " style="left:17px;top:72.5px">吸收功率低；</div>
<div class="t " style="left:5px;top:91.5px">√</div>
<div class="t " style="left:17px;top:91.5px">输入信号频率范围宽；</div>
<div class="t " style="left:5px;top:110px">√</div>
<div class="t " style="left:17px;top:110px">极高的稳定性，极低的漂移；</div>
<div class="t " style="left:5px;top:128.5px">√</div>
<div class="t " style="left:17px;top:128.5px">电源、输入、输出三方隔离；</div>
<div class="t " style="left:5px;top:147.5px">√</div>
<div class="t " style="left:17px;top:147.5px">符合国际电工委员会 IEC61000-4 相关抗电磁干扰标准。</div>
<svg class="hd" style="left:5.2px;top:182.3px" width="19" height="10" viewBox="0 0 19 10"><path d="M0,0.6L1.9,1.2L6,0.4L14,0.1Q17.6,0.1 18.1,2Q17.9,3.7 15,3.8L13.3,4.1L13.1,6L12.2,7.6L10.8,8.8L8,9.3L4,8.9L0.3,8.9L0,8Z" fill="#000"/><path d="M2.2,2.4L4.6,1.9L6.6,2.1L6.5,3L4.2,3.6L3.3,4.6L3.3,5.7L5.6,6L6,7.1L4,7.3L2.2,6.6Z" fill="#fff"/><path d="M11.3,2.45H15.6" stroke="#999" stroke-width="0.5"/><circle cx="9.4" cy="4.3" r="0.45" fill="#aaa"/></svg>
<div class="t h" style="left:30.5px;top:177px">重要的技术参数</div>
<div class="t " style="left:4.4px;top:218.2px">1.</div>
<div class="t lab" style="left:19px;top:218.2px"><b>输入类型：</b></div>
<div class="t " style="left:79px;top:218.2px">交流电流：</div>
<div class="t " style="left:145px;top:218.2px">0<span class="td">～</span>1A；</div>
<div class="t " style="left:228px;top:218.2px">0<span class="td">～</span>2.5A；</div>
<div class="t " style="left:145px;top:236.86px">0<span class="td">～</span>5A；</div>
<div class="t " style="left:228px;top:236.86px">0<span class="td">～</span>10A；</div>
<div class="t " style="left:79px;top:255.52px">其它输入类型请在订货时说明，详见产品标签。</div>
<div class="t " style="left:4.4px;top:274.18px">2.</div>
<div class="t lab" style="left:19px;top:274.18px"><b>输出 1 类型</b>：</div>
<div class="t " style="left:92px;top:274.18px">直流电流：</div>
<div class="t " style="left:152px;top:274.18px">4<span class="td">～</span>20mA；</div>
<div class="t " style="left:211px;top:274.18px">0<span class="td">～</span>10mA；</div>
<div class="t " style="left:272px;top:274.18px">0<span class="td">～</span>20mA；</div>
<div class="t " style="left:92px;top:292.84px">直流电压：</div>
<div class="t " style="left:152px;top:292.84px">1<span class="td">～</span>5V；</div>
<div class="t " style="left:213px;top:292.84px">0<span class="td">～</span>5V；</div>
<div class="t " style="left:270px;top:292.84px">0<span class="td">～</span>10V；</div>
<div class="t " style="left:92px;top:311.5px">交流电压：</div>
<div class="t " style="left:151px;top:311.5px">0<span class="td">～</span>3.5V；</div>
<div class="t " style="left:210px;top:311.5px">0<span class="td">～</span>5V；</div>
<div class="t " style="left:92px;top:330.16px">如需其它特殊信号类型请订制<span style="margin-left:2px">,</span>详见产品标签。</div>
<div class="t " style="left:4.4px;top:348.82px">3.</div>
<div class="t lab" style="left:19px;top:348.82px"><b>输出 2 类型</b>：</div>
<div class="t " style="left:92px;top:348.82px">RS485 通讯；</div>
<div class="t " style="left:4.4px;top:367.48px">4.</div>
<div class="t lab" style="left:19px;top:367.48px"><b>传输精度：</b></div>
<div class="t " style="left:80px;top:367.48px">±0.2%F•S（25℃±2℃）；</div>
<div class="t " style="left:4.4px;top:386.14px">5.</div>
<div class="t lab" style="left:19px;top:386.14px"><b>输入阻抗：</b></div>
<div class="t " style="left:80px;top:386.14px">约为零；</div>
<div class="t " style="left:4.4px;top:404.8px">6.</div>
<div class="t lab" style="left:19px;top:404.8px"><b>线性范围：</b></div>
<div class="t " style="left:80px;top:404.8px">0%<span class="td">～</span>120%标称输入；</div>
<div class="t " style="left:4.4px;top:423.46px">7.</div>
<div class="t lab" style="left:19px;top:423.46px"><b>共模抑制比</b>：</div>
<div class="t " style="left:91px;top:423.46px">&gt;120dB；</div>
<div class="t " style="left:4.4px;top:442.12px">8.</div>
<div class="t lab" style="left:19px;top:442.12px"><b>吸收功率：</b></div>
<div class="t " style="left:80px;top:442.12px"><span class="w lt">&lt;</span>0.02VA/每路（输入 5A 时）；</div>
<div class="t " style="left:4.4px;top:460.78px">9.</div>
<div class="t lab" style="left:19px;top:460.78px"><b>输出纹波：</b></div>
<div class="t " style="left:80px;top:460.78px"><span class="w lt">&lt;</span>1.2mV；</div>
<div class="t " style="left:4.4px;top:479.44px">10.</div>
<div class="t lab" style="left:19px;top:479.44px"><b>频率响应：</b></div>
<div class="t " style="left:80px;top:479.44px">25Hz<span class="td">～</span>1kHz；</div>
<div class="t " style="left:4.4px;top:498.1px">11.</div>
<div class="t lab" style="left:19px;top:498.1px"><b>稳定度：</b></div>
<div class="t " style="left:67px;top:498.1px"><span class="w lt">&lt;</span>0.01%；</div>
<div class="t " style="left:4.4px;top:516.76px">12.</div>
<div class="t lab" style="left:19px;top:516.76px"><b>温度漂移：</b></div>
<div class="t " style="left:81px;top:516.76px">100ppm/℃；</div>
<div class="t " style="left:4.4px;top:535.42px">13.</div>
<div class="t lab" style="left:19px;top:535.42px"><b>响应时间：</b></div>
<div class="t " style="left:78px;top:535.42px">直流电流、电压：</div>
<div class="t " style="left:174px;top:535.42px"><span class="w lt">&lt;</span>150ms；</div>
<div class="t " style="left:75.5px;top:554.08px">交流电压输出：</div>
<div class="t " style="left:159px;top:554.08px"><span class="w lt">&lt;</span>10μs</div>
<div class="t " style="left:4.4px;top:572.74px">14.</div>
<div class="t lab" style="left:19px;top:572.74px"><b>通讯输出协议：</b></div>
<div class="t " style="left:104px;top:572.74px">MODBUS-RTU</div>
<div class="t " style="left:4.4px;top:591.4px">15.</div>
<div class="t lab" style="left:19px;top:591.4px"><b>通讯距离：</b></div>
<div class="t " style="left:80px;top:591.4px">节点数<span class="w">≤</span>255（不加中继时），距离<span class="w">≤</span>1000m</div>
<div class="t " style="left:4.4px;top:610.06px">16.</div>
<div class="t lab" style="left:19px;top:610.06px"><b>通讯波特率</b>：</div>
<div class="t " style="left:91px;top:610.06px">0<span class="td">～</span>38.4kbps 可选</div>
<div class="t " style="left:4.4px;top:628.72px">17.</div>
<div class="t lab" style="left:19px;top:628.72px"><b>过载能力：</b></div>
<div class="t " style="left:80px;top:628.72px">2 倍标称输入值；</div>
<div class="t " style="left:80px;top:647.38px">10 倍标称输入值，持续 1s；</div>
<div class="t " style="left:4.4px;top:666.04px">18.</div>
<div class="t lab" style="left:19px;top:666.04px"><b>负载能力：</b></div>
<div class="t " style="left:80px;top:666.04px">直流电流输出，负载<span class="w">≤</span>300Ω；</div>
<div class="t " style="left:84px;top:684.7px">直流电压输出，负载<span class="w">≥</span>1MΩ；</div>
<div class="t " style="left:84px;top:703.36px">交流电压输出，负载<span class="w">≥</span>100kΩ；</div>
<div class="t " style="left:84px;top:722.02px">如有其它负载需求请特殊订制，详见产品标签。</div>
<div class="t " style="left:4.4px;top:740.68px">19.</div>
<div class="t lab" style="left:19px;top:740.68px"><b>功耗：</b></div>
<div class="t " style="left:90px;top:740.68px">1VA；</div>
<div class="t " style="left:4.4px;top:759.34px">20.</div>
<div class="t lab" style="left:19px;top:759.34px"><b>辅助电源：</b></div>
<div class="t " style="left:90px;top:759.34px">18V DC<span class="td">～</span>32V DC(24V DC)</div>
<div class="t " style="left:4.4px;top:778px">21.</div>
<div class="t lab" style="left:19px;top:778px"><b>隔离耐压：</b></div>
<div class="t " style="left:89px;top:778px">输入与输出之间<span class="w lt gt">&gt;</span>1.5kVAC，1min；</div>
<div class="t " style="left:90px;top:796.66px">电源与输入之间<span class="w lt gt">&gt;</span>1.5kVAC，1min；</div>
<div class="t " style="left:90px;top:815.32px">电源与输出之间<span class="w lt gt">&gt;</span>1.5kVAC，1min；</div>
<div class="t " style="left:4.4px;top:833.98px">22.</div>
<div class="t lab" style="left:19px;top:833.98px"><b>环境温度：</b></div>
<div class="t " style="left:89px;top:833.98px">-20℃<span class="td">～</span>+60℃。</div>
<svg class="hd" style="left:359.2px;top:9.3px" width="19" height="10" viewBox="0 0 19 10"><path d="M0,0.6L1.9,1.2L6,0.4L14,0.1Q17.6,0.1 18.1,2Q17.9,3.7 15,3.8L13.3,4.1L13.1,6L12.2,7.6L10.8,8.8L8,9.3L4,8.9L0.3,8.9L0,8Z" fill="#000"/><path d="M2.2,2.4L4.6,1.9L6.6,2.1L6.5,3L4.2,3.6L3.3,4.6L3.3,5.7L5.6,6L6,7.1L4,7.3L2.2,6.6Z" fill="#fff"/><path d="M11.3,2.45H15.6" stroke="#999" stroke-width="0.5"/><circle cx="9.4" cy="4.3" r="0.45" fill="#aaa"/></svg>
<div class="t h" style="left:386.5px;top:4px">接线图</div>
<svg class="hd" style="left:359.2px;top:257.8px" width="19" height="10" viewBox="0 0 19 10"><path d="M0,0.6L1.9,1.2L6,0.4L14,0.1Q17.6,0.1 18.1,2Q17.9,3.7 15,3.8L13.3,4.1L13.1,6L12.2,7.6L10.8,8.8L8,9.3L4,8.9L0.3,8.9L0,8Z" fill="#000"/><path d="M2.2,2.4L4.6,1.9L6.6,2.1L6.5,3L4.2,3.6L3.3,4.6L3.3,5.7L5.6,6L6,7.1L4,7.3L2.2,6.6Z" fill="#fff"/><path d="M11.3,2.45H15.6" stroke="#999" stroke-width="0.5"/><circle cx="9.4" cy="4.3" r="0.45" fill="#aaa"/></svg>
<div class="t h" style="left:386.5px;top:252.5px">外形尺寸图<span style="margin-left:6.2px;letter-spacing:0.1px">(单位:mm)</span></div>
<div class="t " style="left:387px;top:289px">宽<span class="w x">×</span>高<span class="w x">×</span>深<span class="p6">(</span>17.8mm×100×115)mm</div>
<svg class="hd" style="left:359.2px;top:505.3px" width="19" height="10" viewBox="0 0 19 10"><path d="M0,0.6L1.9,1.2L6,0.4L14,0.1Q17.6,0.1 18.1,2Q17.9,3.7 15,3.8L13.3,4.1L13.1,6L12.2,7.6L10.8,8.8L8,9.3L4,8.9L0.3,8.9L0,8Z" fill="#000"/><path d="M2.2,2.4L4.6,1.9L6.6,2.1L6.5,3L4.2,3.6L3.3,4.6L3.3,5.7L5.6,6L6,7.1L4,7.3L2.2,6.6Z" fill="#fff"/><path d="M11.3,2.45H15.6" stroke="#999" stroke-width="0.5"/><circle cx="9.4" cy="4.3" r="0.45" fill="#aaa"/></svg>
<div class="t h" style="left:386.5px;top:500px">安装方法</div>
<div class="t " style="left:358.8px;top:531.1px"><span class="bx">□</span></div>
<div class="t " style="left:384px;top:530.7px">35mm 导轨式安装，安装时请注意卡位稳定、牢固。</div>
<div class="t " style="left:358.8px;top:551.6px"><span class="bx">□</span></div>
<div class="t " style="left:384px;top:551.2px">请尽可能垂直安装，以利于仪表内部热量散发。</div>
<svg class="hd" style="left:359.2px;top:587.8px" width="19" height="10" viewBox="0 0 19 10"><path d="M0,0.6L1.9,1.2L6,0.4L14,0.1Q17.6,0.1 18.1,2Q17.9,3.7 15,3.8L13.3,4.1L13.1,6L12.2,7.6L10.8,8.8L8,9.3L4,8.9L0.3,8.9L0,8Z" fill="#000"/><path d="M2.2,2.4L4.6,1.9L6.6,2.1L6.5,3L4.2,3.6L3.3,4.6L3.3,5.7L5.6,6L6,7.1L4,7.3L2.2,6.6Z" fill="#fff"/><path d="M11.3,2.45H15.6" stroke="#999" stroke-width="0.5"/><circle cx="9.4" cy="4.3" r="0.45" fill="#aaa"/></svg>
<div class="t h" style="left:386.5px;top:582.5px">安装示意图</div>
<div class="t " style="left:478.2px;top:803.3px"><span style="font-size:12.3px">垂直安装示意图</span></div>
</body></html>
